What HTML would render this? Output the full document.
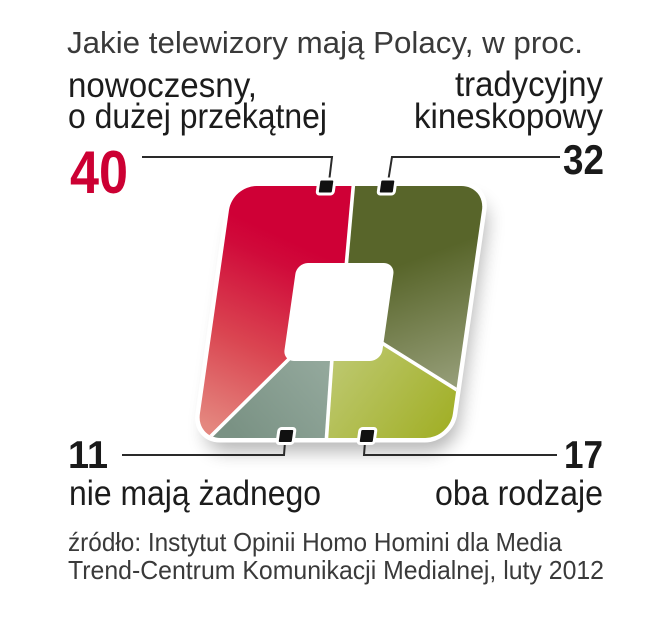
<!DOCTYPE html>
<html>
<head>
<meta charset="utf-8">
<style>
html,body{margin:0;padding:0;background:#fff;}
svg{display:block;}
text{font-family:"Liberation Sans","DejaVu Sans",sans-serif;}
</style>
</head>
<body>
<svg width="658" height="640" viewBox="0 0 658 640" xmlns="http://www.w3.org/2000/svg">
  <defs>
    <clipPath id="outerClip">
      <rect x="214.5" y="186" width="253" height="252" rx="24" ry="24" transform="translate(0,311.5) skewX(-8.13) translate(0,-311.5)"/>
    </clipPath>
    <filter id="blur" x="-30%" y="-30%" width="160%" height="160%">
      <feGaussianBlur stdDeviation="9"/>
    </filter>
    <linearGradient id="gRed" gradientUnits="userSpaceOnUse" x1="300" y1="245" x2="215" y2="430">
      <stop offset="0" stop-color="#cf0036"/>
      <stop offset="0.12" stop-color="#d00a3a"/>
      <stop offset="0.55" stop-color="#da4551"/>
      <stop offset="1" stop-color="#e4877f"/>
    </linearGradient>
    <linearGradient id="gDark" gradientUnits="userSpaceOnUse" x1="400" y1="265" x2="445" y2="385">
      <stop offset="0" stop-color="#58652a"/>
      <stop offset="1" stop-color="#949c76"/>
    </linearGradient>
    <linearGradient id="gGrey" gradientUnits="userSpaceOnUse" x1="325" y1="365" x2="240" y2="438">
      <stop offset="0" stop-color="#93a89c"/>
      <stop offset="1" stop-color="#7a9284"/>
    </linearGradient>
    <linearGradient id="gLight" gradientUnits="userSpaceOnUse" x1="340" y1="360" x2="445" y2="438">
      <stop offset="0" stop-color="#bcc76c"/>
      <stop offset="1" stop-color="#a1af26"/>
    </linearGradient>
  </defs>

  <!-- Title -->
  <text x="67" y="53" font-size="31" fill="#3a3a3a" textLength="516" lengthAdjust="spacingAndGlyphs">Jakie telewizory mają Polacy, w proc.</text>

  <!-- Top labels -->
  <text x="68" y="97" font-size="35" fill="#1c1c1c" textLength="189" lengthAdjust="spacingAndGlyphs">nowoczesny,</text>
  <text x="68" y="128" font-size="35" fill="#1c1c1c" textLength="259" lengthAdjust="spacingAndGlyphs">o dużej przekątnej</text>
  <text x="455" y="96" font-size="35" fill="#1c1c1c" textLength="148" lengthAdjust="spacingAndGlyphs">tradycyjny</text>
  <text x="414" y="128" font-size="35" fill="#1c1c1c" textLength="189" lengthAdjust="spacingAndGlyphs">kineskopowy</text>

  <!-- Numbers -->
  <text x="70" y="193" font-size="60" font-weight="bold" fill="#cc0033" textLength="58" lengthAdjust="spacingAndGlyphs">40</text>
  <text x="563" y="174" font-size="42" font-weight="bold" fill="#1a1a1a" textLength="41" lengthAdjust="spacingAndGlyphs">32</text>
  <text x="68" y="468" font-size="39" font-weight="bold" fill="#1a1a1a" textLength="40" lengthAdjust="spacingAndGlyphs">11</text>
  <text x="564" y="468" font-size="39" font-weight="bold" fill="#1a1a1a" textLength="39" lengthAdjust="spacingAndGlyphs">17</text>

  <!-- Shadow -->
  <rect x="222" y="200" width="253" height="252" rx="26" ry="26" fill="#000" opacity="0.28" filter="url(#blur)" transform="translate(0,311.5) skewX(-8.13) translate(0,-311.5)"/>

  <!-- White outline -->
  <rect x="214.5" y="186" width="253" height="252" rx="24" ry="24" fill="#fff" stroke="#fff" stroke-width="9" transform="translate(0,311.5) skewX(-8.13) translate(0,-311.5)"/>

  <!-- Segments -->
  <g clip-path="url(#outerClip)">
    <polygon points="354,170 346,265 290,358 205,445 150,445 150,170" fill="url(#gRed)"/>
    <polygon points="354,170 346,265 384,344 462,394 530,394 530,170" fill="url(#gDark)"/>
    <polygon points="290,358 332,361 326,450 200,450" fill="url(#gGrey)"/>
    <polygon points="332,361 384,344 462,394 530,394 530,450 326,450" fill="url(#gLight)"/>
    <!-- dividers -->
    <g stroke="#fff" stroke-width="3.6" fill="none">
      <line x1="354" y1="178" x2="346" y2="268"/>
      <line x1="291" y1="357" x2="205" y2="442"/>
      <line x1="332" y1="358" x2="326" y2="445"/>
      <line x1="382" y1="343" x2="465" y2="395"/>
    </g>
  </g>

  <!-- Hole -->
  <rect x="290" y="263" width="98" height="98" rx="11" ry="11" fill="#fff" transform="translate(0,311.5) skewX(-8.13) translate(0,-311.5)"/>

  <!-- Connector lines -->
  <g stroke="#2a2a2a" stroke-width="2" fill="none">
    <polyline points="142,157 332,157 329,182"/>
    <polyline points="560,157 392,157 388,182"/>
    <polyline points="122,455 284,455 285,442"/>
    <polyline points="557,455 364,455 365,442"/>
  </g>

  <!-- Markers -->
  <g fill="#111" stroke="#fff" stroke-width="3" transform="translate(0,311.5) skewX(-8.13) translate(0,-311.5)">
    <rect x="300.2" y="179" width="16" height="15" rx="2.5"/>
    <rect x="361.2" y="179" width="16" height="15" rx="2.5"/>
    <rect x="295.8" y="428.5" width="16" height="15" rx="2.5"/>
    <rect x="376.8" y="428.5" width="16" height="15" rx="2.5"/>
  </g>

  <!-- Bottom labels -->
  <text x="69" y="505" font-size="35" fill="#1c1c1c" textLength="252" lengthAdjust="spacingAndGlyphs">nie mają żadnego</text>
  <text x="435" y="505" font-size="35" fill="#1c1c1c" textLength="168" lengthAdjust="spacingAndGlyphs">oba rodzaje</text>

  <!-- Source -->
  <text x="68" y="551" font-size="26" fill="#3a3a3a" textLength="494" lengthAdjust="spacingAndGlyphs">źródło: Instytut Opinii Homo Homini dla Media</text>
  <text x="68" y="579" font-size="26" fill="#3a3a3a" textLength="536" lengthAdjust="spacingAndGlyphs">Trend-Centrum Komunikacji Medialnej, luty 2012</text>
</svg>
</body>
</html>
